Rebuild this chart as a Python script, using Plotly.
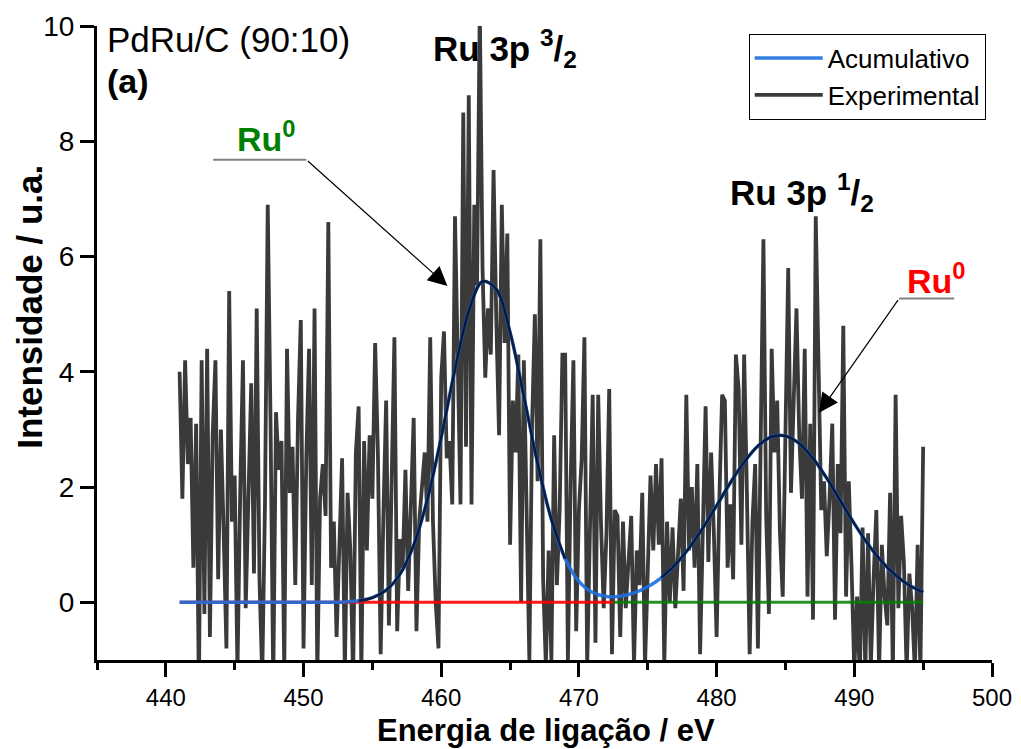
import numpy as np
import plotly.graph_objects as go

# ---------------- data ----------------
# experimental spectrum, 0.2 eV step from 441.0 to 495.0 eV
exp_start = 441.0
exp_step = 0.2
experimental = [
    4.0, 1.8, 4.2, 2.4, 3.2, 0.6, 3.1, -1.5, 4.2, -0.2,
    4.4, -0.6, 2.9, 4.2, 0.4, 3.0, 1.2, -0.8, 5.4, 1.4,
    2.2, -1.2, 1.9, 4.2, -0.1, 1.8, 3.8, 0.5, 5.1, 0.4,
    -1.3, 1.7, 6.9, 3.2, -1.4, 3.3, 2.3, 2.8, -1.2, 4.4,
    1.9, 2.7, 0.3, 3.2, 4.9, -0.8, 2.5, 4.4, 0.3, 5.1,
    -1.3, 1.8, 2.4, 1.5, 6.6, 0.6, 1.4, -0.6, 0.8, 2.5,
    -1.2, 1.9, 0.9, -1.3, 2.6, 3.4, -1.2, 2.8, 0.9, 2.9,
    1.8, 4.5, 2.6, -0.9, 1.5, 3.5, -0.4, 1.9, 4.6, -0.5,
    1.1, 0.6, 2.3, 0.2, 1.7, 3.2, -0.5, 1.4, 2.0, 2.6,
    1.4, 4.6, 1.4, 0.0, -0.8, 3.9, 4.7, 2.5, 2.8, 1.7,
    6.7, 4.4, 1.7, 8.5, 2.7, 8.8, 1.7, 6.9, 5.5, 10.3,
    5.8, 3.9, 5.1, 4.3, 7.5, 4.9, 2.9, 6.9, 4.5, 6.4,
    1.0, 3.5, 2.6, 4.3, 0.0, 4.2, 1.5, -1.0, 3.1, 5.0,
    2.1, 6.3, 0.4, -1.1, 0.9, -1.0, 2.9, 0.3, 1.6, 4.3,
    4.3, -1.0, 2.1, 4.2, -0.5, 1.6, 2.5, 4.6, -1.1, 1.3,
    3.6, -0.7, 3.6, 1.4, -0.1, 1.2, 3.7, -0.9, 1.6, 1.5,
    -0.6, 1.4, -0.1, 0.7, 1.5, -1.1, 0.9, 0.3, 1.9, -1.1,
    0.6, 2.2, 0.9, 2.4, 1.0, 2.5, -1.1, 1.4, 0.0, 1.3,
    -0.1, 0.9, 1.8, 0.2, 3.6, 0.9, 2.0, 0.6, 2.4, -0.9,
    1.1, 3.4, 0.7, 2.6, 1.2, -0.6, 1.8, 3.6, 3.5, 0.6,
    1.7, 0.4, 4.3, 3.7, 1.0, 4.3, 1.9, -0.9, 1.4, 2.4,
    -0.8, 2.8, 6.3, 1.5, -0.2, 4.4, 2.6, 3.5, 1.2, 0.1,
    3.3, 5.8, 1.9, 3.6, 5.1, 2.9, 1.8, 4.4, 0.1, 3.1,
    -0.3, 6.7, 4.4, 1.6, 2.1, 0.8, 1.8, 3.1, -0.3, 2.4,
    1.2, 4.8, 0.1, 2.1, 0.6, -1.2, 0.1, -1.3, 1.3, -1.2,
    1.2, -1.1, 0.4, 1.6, -1.2, 1.0, 0.1, -0.4, 1.9, -1.2,
    3.6, -0.1, 1.5, 0.7, -1.2, 0.5, -0.1, -1.2, 1.0, -1.2,
    2.7,
]
energy = np.round(exp_start + exp_step * np.arange(len(experimental)), 1)

# cumulative fit, sampled every 1 eV
fit_energy = list(range(441, 496))
cumulative = [0, 0, 0, 0, 0, 0, 0, 0, 0, 0, 0,
              0.002, 0.008, 0.027, 0.081, 0.211, 0.486, 0.994, 1.794, 2.864, 4.044,
              5.047, 5.569, 5.434, 4.687, 3.575, 2.411, 1.438, 0.758, 0.365, 0.170,
              0.101, 0.107, 0.164, 0.270, 0.430, 0.653, 0.942, 1.290, 1.679, 2.075,
              2.435, 2.714, 2.873, 2.888, 2.757, 2.499, 2.152, 1.759, 1.366, 1.007,
              0.705, 0.469, 0.296, 0.178]

# individual peaks
peak1_energy = list(range(454, 470))
peak1 = [0.027, 0.081, 0.211, 0.486, 0.994, 1.794, 2.864, 4.044, 5.047, 5.569,
         5.434, 4.687, 3.575, 2.411, 1.438, 0.758]
peak2_energy = list(range(476, 496))
peak2 = [0.430, 0.653, 0.942, 1.290, 1.679, 2.075, 2.435, 2.714, 2.873, 2.888,
         2.757, 2.499, 2.152, 1.759, 1.366, 1.007, 0.705, 0.469, 0.296, 0.178]

# baselines
base1_energy = [441.0, 472.5]
base2_energy = [472.5, 495.0]
base_level = [0, 0]

x_ticks = [440, 450, 460, 470, 480, 490, 500]
y_ticks = [0, 2, 4, 6, 8, 10]

FONT = "Arial, Liberation Sans, sans-serif"
GRAY = "#3a3a3a"
BLUE = "#1f6fdc"
NAVY = "rgba(3,12,35,0.85)"

fig = go.Figure()
fig.add_trace(go.Scatter(x=energy, y=experimental, mode="lines", name="Experimental",
                         line=dict(color=GRAY, width=3.8), legendrank=2))
fig.add_trace(go.Scatter(x=base1_energy, y=base_level, mode="lines", showlegend=False,
                         line=dict(color="rgba(255,0,0,0.9)", width=3)))
fig.add_trace(go.Scatter(x=base2_energy, y=base_level, mode="lines", showlegend=False,
                         line=dict(color="rgba(0,128,0,0.85)", width=3)))
fig.add_trace(go.Scatter(x=fit_energy, y=cumulative, mode="lines", name="Acumulativo",
                         line=dict(color=BLUE, width=3.5, shape="spline"), opacity=0.9,
                         legendrank=1))
fig.add_trace(go.Scatter(x=peak1_energy, y=peak1, mode="lines", showlegend=False,
                         line=dict(color=NAVY, width=2.6, shape="spline")))
fig.add_trace(go.Scatter(x=peak2_energy, y=peak2, mode="lines", showlegend=False,
                         line=dict(color=NAVY, width=2.6, shape="spline")))

annotations = [
    dict(xref="paper", yref="paper", x=0.009, y=1.012, xanchor="left", yanchor="top",
         text="PdRu/C (90:10)", showarrow=False, font=dict(size=35, color="black")),
    dict(xref="paper", yref="paper", x=0.009, y=0.913, xanchor="left", yanchor="middle",
         text="<b>(a)</b>", showarrow=False, font=dict(size=34, color="black")),
    dict(xref="paper", yref="paper", x=0.456, y=0.965, xanchor="center", yanchor="middle",
         text="<b>Ru 3p <sup>3</sup>/<sub>2</sub></b>", showarrow=False,
         font=dict(size=35, color="black")),
    dict(xref="paper", yref="paper", x=0.788, y=0.738, xanchor="center", yanchor="middle",
         text="<b>Ru 3p <sup>1</sup>/<sub>2</sub></b>", showarrow=False,
         font=dict(size=35, color="black")),
    dict(xref="paper", yref="paper", x=0.189, y=0.826, xanchor="center", yanchor="middle",
         text="<b>Ru<sup>0</sup></b>", showarrow=False, font=dict(size=34, color="#008000")),
    dict(xref="paper", yref="paper", x=0.9385, y=0.602, xanchor="center", yanchor="middle",
         text="<b>Ru<sup>0</sup></b>", showarrow=False, font=dict(size=34, color="#ff0000")),
    # axis titles
    dict(xref="paper", yref="paper", x=-0.075, y=0.557, xanchor="center", yanchor="middle",
         text="<b>Intensidade / u.a.</b>", textangle=-90, showarrow=False,
         font=dict(size=35, color="black")),
    dict(xref="paper", yref="paper", x=0.502, y=-0.111, xanchor="center", yanchor="middle",
         text="<b>Energia de ligação / eV</b>", showarrow=False,
         font=dict(size=31, color="black")),
    # arrows
    dict(xref="x", yref="y", axref="x", ayref="y", x=460.45, y=5.49, ax=450.2, ay=7.68,
         text="", showarrow=True, arrowhead=2, arrowsize=3.2, arrowwidth=1.2,
         arrowcolor="black"),
    dict(xref="x", yref="y", axref="x", ayref="y", x=487.44, y=3.29, ax=493.25, ay=5.27,
         text="", showarrow=True, arrowhead=2, arrowsize=3.2, arrowwidth=1.2,
         arrowcolor="black"),
]

shapes = [
    dict(type="line", xref="x", yref="y", x0=443.44, x1=450.2, y0=7.68, y1=7.68,
         line=dict(color="#808080", width=2)),
    dict(type="line", xref="x", yref="y", x0=493.25, x1=497.25, y0=5.27, y1=5.27,
         line=dict(color="#808080", width=2)),
]

fig.update_layout(
    width=1021, height=749,
    margin=dict(l=97, r=29, t=26, b=89, autoexpand=False),
    paper_bgcolor="white", plot_bgcolor="white",
    font=dict(family=FONT, color="black"),
    showlegend=True,
    legend=dict(x=0.993, xanchor="right", y=0.988, yanchor="top",
                bgcolor="white", bordercolor="black", borderwidth=1,
                font=dict(size=26, color="black"), itemwidth=68,
                tracegroupgap=0),
    annotations=annotations,
    shapes=shapes,
    xaxis=dict(range=[435, 500], tickvals=x_ticks, ticks="outside", ticklen=14,
               tickwidth=3, tickcolor="black", showline=True, linewidth=3,
               linecolor="black", showgrid=False, zeroline=False,
               tickfont=dict(size=24, color="black"),
               minor=dict(dtick=5, tick0=435, ticks="outside", ticklen=7,
                          tickwidth=3, tickcolor="black", showgrid=False)),
    yaxis=dict(range=[-1, 10], tickvals=y_ticks, ticks="outside", ticklen=14,
               tickwidth=3, tickcolor="black", showline=True, linewidth=3,
               linecolor="black", showgrid=False, zeroline=False,
               tickfont=dict(size=28, color="black")),
)

fig.write_html("out.html")
